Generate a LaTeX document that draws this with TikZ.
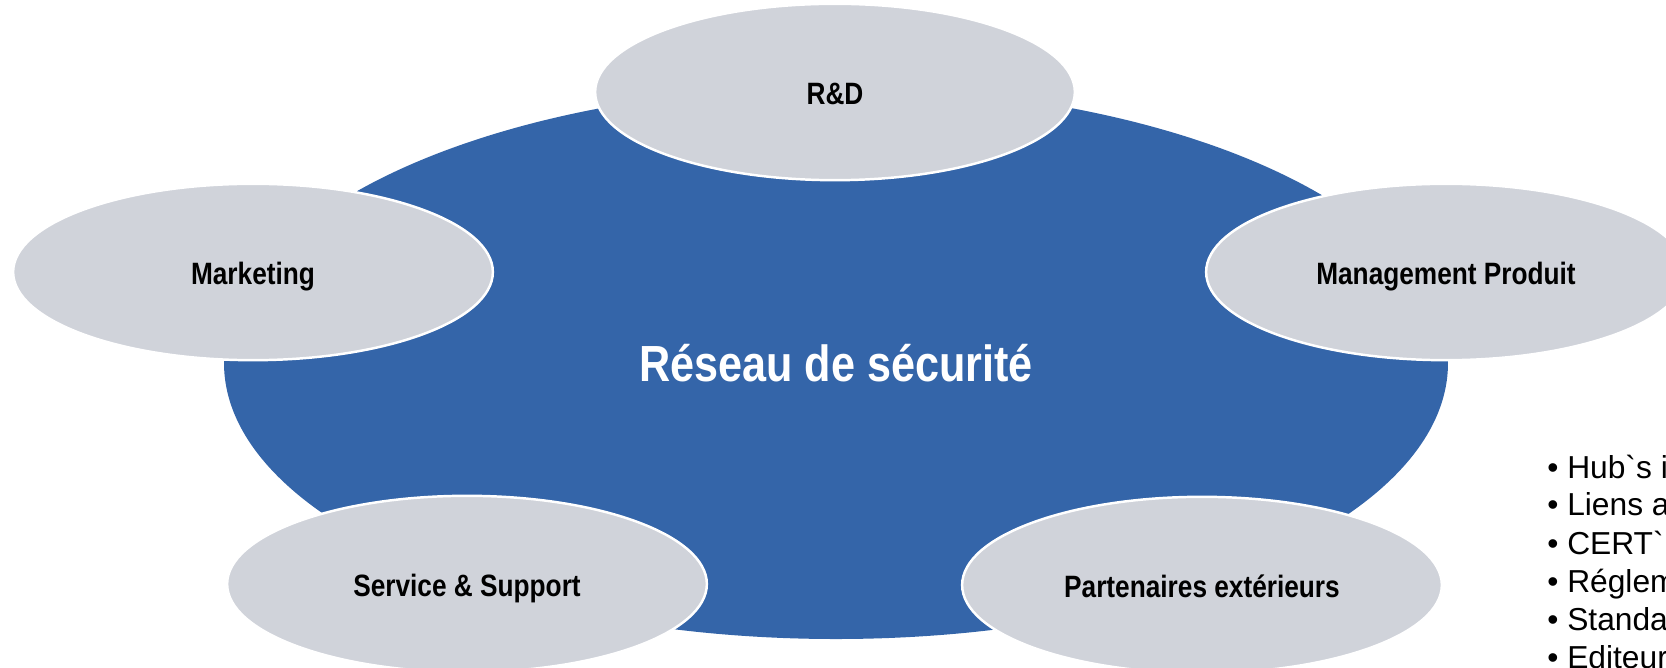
\documentclass[tikz,border=0pt]{standalone}
\usepackage{fontspec}
\setmainfont{Liberation Sans}
\newfontfamily\narrowfont{Liberation Sans Bold}[FakeStretch=0.85]
\usetikzlibrary{shapes.geometric}

\definecolor{reseaublue}{RGB}{52,101,169}
\definecolor{polegray}{RGB}{208,211,218}

\tikzset{
  pole/.style={ellipse, fill=polegray, draw=white, line width=1.4pt,
    minimum width=272pt, minimum height=100pt, inner sep=0pt,
    text height=14.5pt, text depth=0pt,
    font=\narrowfont\fontsize{17.5}{20}\selectfont},
  bullet/.style={anchor=base west, inner sep=0pt,
    font=\fontsize{18}{21.5}\selectfont}
}

\begin{document}
\begin{tikzpicture}[x=0.567pt, y=-0.567pt]
    \useasboundingbox (0,0) rectangle (1666,668);

    % central network
    \node[ellipse, fill=reseaublue, minimum width=694pt, minimum height=313pt,
      inner sep=0pt, text=white, font=\narrowfont\fontsize{28.8}{32}\selectfont]
      (reseau) at (836,363) {R\'eseau de s\'ecurit\'e};

    % the five poles around it
    \node[pole] (rd) at (835,92) {R\&D};
    \node[pole] (marketing) at (253,272) {Marketing};
    \node[pole] (management) at (1446,272) {Management Produit};
    \node[pole] (service) at (467,584) {Service \& Support};
    \node[pole] (partenaires) at (1202,585) {Partenaires ext\'erieurs};

    % list on the right
    \node[bullet] (b1) at (1547,478) {\textbullet\ Hub\textasciigrave s i};
    \node[bullet] (b2) at (1547,516) {\textbullet\ Liens a};
    \node[bullet] (b3) at (1547,554) {\textbullet\ CERT\textasciigrave};
    \node[bullet] (b4) at (1547,592) {\textbullet\ R\'eglem};
    \node[bullet] (b5) at (1547,630) {\textbullet\ Standa};
    \node[bullet] (b6) at (1547,668) {\textbullet\ Editeur};
\end{tikzpicture}
\end{document}
